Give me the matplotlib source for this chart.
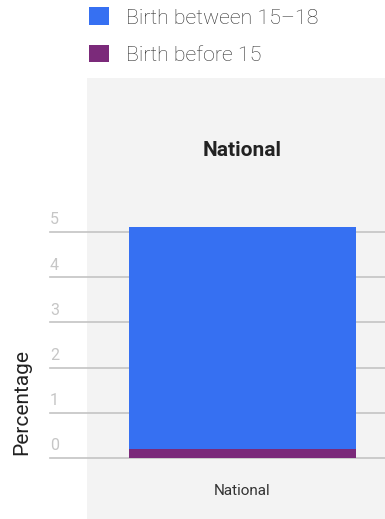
import matplotlib.pyplot as plt
from matplotlib.patches import Rectangle, Patch

plt.rcParams['font.family'] = ['Roboto', 'DejaVu Sans']

regions = ['National']
birth_before_15 = [0.2]
birth_15_18 = [4.9]
series_labels = ['Birth before 15', 'Birth between 15\u201318']
series_colors = ['#7b2a7a', '#3670f2']
yticks = [0, 1, 2, 3, 4, 5]

W, H = 385, 519
fig = plt.figure(figsize=(W / 100, H / 100), dpi=100)

# grey panel behind the plot
fig.patches.append(Rectangle((87 / W, 0), 1 - 87 / W, (H - 78) / H,
                             transform=fig.transFigure, facecolor='#f3f3f3',
                             edgecolor='none', zorder=-10))

ppu = 45.2
ax = fig.add_axes([50 / W, (H - 458) / H, (W - 50) / W, 5.3 * ppu / H])
ax.set_facecolor('none')
ax.set_ylim(0, 5.3)
ax.set_xlim(-(242.5 - 50) / 227, (W - 242.5) / 227)

ax.bar(range(len(regions)), birth_before_15, width=1, color=series_colors[0], zorder=3)
ax.bar(range(len(regions)), birth_15_18, width=1, bottom=birth_before_15,
       color=series_colors[1], zorder=3)

for y in yticks:
    ax.axhline(y, color='#c4c4c4', lw=1.2, zorder=1, clip_on=False)
    ax.text(0.0, y + 0.1, str(y), transform=ax.get_yaxis_transform(),
            ha='left', va='bottom', fontsize=11.5, color='#c6c6c6')

for s in ax.spines.values():
    s.set_visible(False)
ax.set_yticks([])
ax.set_xticks([])

for i, r in enumerate(regions):
    ax.text(i, -0.72, r, ha='center', va='center', fontsize=11, color='#333333',
            clip_on=False)

fig.text(242 / W, 1 - 150 / H, 'National', ha='center', va='center',
         fontsize=15, fontweight='bold', color='#222222')
fig.text(22 / W, 1 - 402 / H, 'Percentage', ha='center', va='center',
         rotation=90, fontsize=15, color='#222222')

handles = [Patch(facecolor=series_colors[1]), Patch(facecolor=series_colors[0])]
fig.legend(handles, [series_labels[1], series_labels[0]], loc='upper left',
           bbox_to_anchor=(85 / W, 1 - 3 / H), frameon=False,
           prop={'size': 15.4, 'weight': 'light'}, labelcolor='#2e2e2e',
           handlelength=0.9, handleheight=0.9, handletextpad=0.8,
           labelspacing=0.8, borderpad=0.2, borderaxespad=0)

fig.savefig('out.png', dpi=100)
